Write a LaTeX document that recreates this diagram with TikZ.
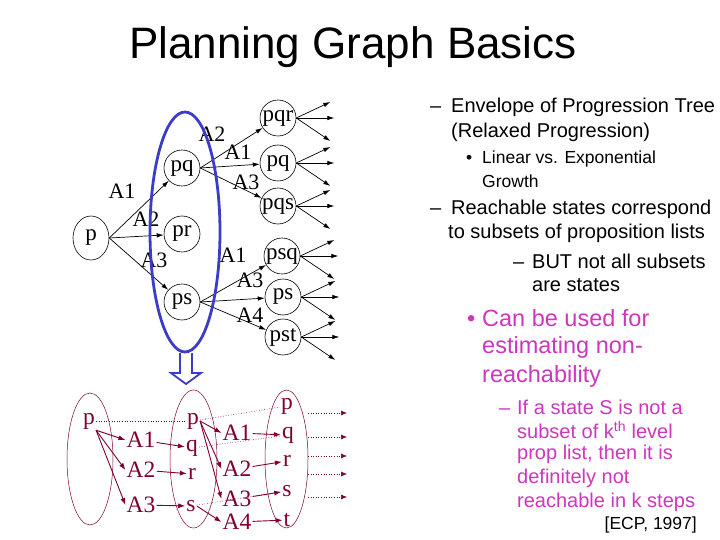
\documentclass[tikz,border=0pt]{standalone}
\usepackage{fontspec}
\setmainfont{Liberation Sans}
\newfontfamily\graphfont{Liberation Serif}
\usetikzlibrary{arrows.meta,shapes.geometric}

\definecolor{ringblue}{RGB}{60,60,200}
\definecolor{plangraph}{RGB}{128,0,48}
\definecolor{notepink}{RGB}{205,55,190}

\tikzset{
  treenode/.style={draw, circle, line width=0.6pt, minimum size=36pt, inner sep=0pt, font=\graphfont\fontsize{23}{23}\selectfont},
  actlbl/.style={inner sep=0pt, font=\graphfont\fontsize{22}{22}\selectfont},
  treearrow/.style={-{Latex[length=7pt,width=4.5pt]}, line width=0.7pt},
  prop/.style={inner sep=1pt, text=plangraph, font=\graphfont\fontsize{23.5}{23.5}\selectfont},
  layer/.style={draw=plangraph, ellipse, line width=0.5pt, inner sep=0pt},
  link/.style={plangraph, line width=0.9pt, -{Latex[length=7pt,width=5pt]}},
  noop/.style={plangraph, dotted, line width=0.6pt},
  bodytxt/.style={anchor=west, inner sep=0pt, font=\fontsize{20}{20}\selectfont},
  smalltxt/.style={anchor=west, inner sep=0pt, font=\fontsize{17.5}{17.5}\selectfont},
  pinkbig/.style={anchor=west, inner sep=0pt, text=notepink, font=\fontsize{23.5}{23.5}\selectfont},
  pinktxt/.style={anchor=west, inner sep=0pt, text=notepink, font=\fontsize{20}{20}\selectfont}
}

\begin{document}
\begin{tikzpicture}[x=1pt, y=-1pt]
    \useasboundingbox[fill=white] (0,0) rectangle (720,540);

    % Title
    \node[font=\fontsize{44}{44}\selectfont] (title) at (353,47) {Planning Graph Basics};

    % Progression tree
    \node[treenode, ellipse, minimum width=36pt, minimum height=44pt] (p) at (91,238) {p};
    \node[treenode] (pq) at (182,168) {pq};
    \node[treenode] (pr) at (182,234) {pr};
    \node[treenode] (ps) at (182,302) {ps};
    \node[treenode] (pqr) at (278,118) {pqr};
    \node[treenode] (pqb) at (278,163) {pq};
    \node[treenode] (pqs) at (278,206) {pqs};
    \node[treenode] (psq) at (282,256) {psq};
    \node[treenode] (psb) at (283,297) {ps};
    \node[treenode] (pst) at (283,337) {pst};

    \foreach \t in {pq,pr,ps} \draw[treearrow] (p.east) -- (\t);
    \foreach \t in {pqr,pqb,pqs} \draw[treearrow] (pq.east) -- (\t);
    \foreach \t in {psq,psb,pst} \draw[treearrow] (ps.east) -- (\t);
    \foreach \n in {pqr,pqb,pqs,psq,psb,pst} {
        \draw[treearrow] (\n.east) -- +(34,-16);
        \draw[treearrow] (\n.east) -- +(38,0);
        \draw[treearrow] (\n.east) -- +(34,23);
    }

    % Action labels
    \node[actlbl] (t1) at (122,191) {A1};
    \node[actlbl] (t2) at (146,219) {A2};
    \node[actlbl] (t3) at (154,260) {A3};
    \node[actlbl] (t4) at (212,134) {A2};
    \node[actlbl] (t5) at (238,152) {A1};
    \node[actlbl] (t6) at (246,182) {A3};
    \node[actlbl] (t7) at (233,255) {A1};
    \node[actlbl] (t8) at (250,280) {A3};
    \node[actlbl] (t9) at (250,315) {A4};

    % Envelope
    \node[draw=ringblue, line width=2.8pt, ellipse, minimum width=70pt, minimum height=240pt] (envelope) at (185,232) {};
    \draw[ringblue, line width=1.8pt, line join=miter] (180,353) -- (180,373) -- (171,373) -- (186,384) -- (201,373) -- (192,373) -- (192,353);

    % Planning graph
    \node[layer, minimum width=46pt, minimum height=132pt] (lay0) at (90,459) {};
    \node[layer, minimum width=47pt, minimum height=138pt] (lay1) at (193.5,459) {};
    \node[layer, minimum width=43pt, minimum height=138pt] (lay2) at (286.5,459) {};

    \node[prop] (lp) at (89,421) {p};
    \node[prop] (la1) at (141,440) {A1};
    \node[prop] (la2) at (141,470) {A2};
    \node[prop] (la3) at (141,505) {A3};
    \node[prop] (mp) at (193,421) {p};
    \node[prop] (mq) at (192,448) {q};
    \node[prop] (mr) at (192,474) {r};
    \node[prop] (ms) at (191,506) {s};
    \node[prop] (ra1) at (237,433) {A1};
    \node[prop] (ra2) at (237,469) {A2};
    \node[prop] (ra3) at (237,499) {A3};
    \node[prop] (ra4) at (237,522) {A4};
    \node[prop] (rp) at (287,406) {p};
    \node[prop] (rq) at (288,435) {q};
    \node[prop] (rr) at (287,461) {r};
    \node[prop] (rs) at (287,491) {s};
    \node[prop] (rt) at (287,520) {t};

    \draw[noop] (lp) -- (mp);
    \draw[noop] (mp) -- (rp);
    \draw[noop] (mq) -- (rq);
    \draw[noop] (ms) -- (rs);
    \foreach \a in {la1,la2,la3} \draw[link] (lp.south east) -- (\a.west);
    \draw[link] (la1) -- (mq);
    \draw[link] (la2) -- (mr);
    \draw[link] (la3) -- (ms);
    \foreach \a in {ra1,ra2,ra3} \draw[link] (mp.east) -- (\a.west);
    \draw[link] (ms.east) -- (ra4.west);
    \draw[link] (ra1) -- (rq);
    \draw[link] (ra2) -- (rr);
    \draw[link] (ra3) -- (rs);
    \draw[link] (ra4) -- (rt);
    \foreach \y in {413,437,456,474,497}
        \draw[noop, -{Latex[length=6pt,width=5pt]}] (308,\y) -- (347,\y);

    % Notes
    \foreach \x/\y/\txt [count=\i] in {
        430/107/{\makebox[21pt][l]{–}Envelope of Progression Tree}, 451/132/{(Relaxed Progression)},
        430/209/{\makebox[21pt][l]{–}Reachable states correspond}, 448/233/{to subsets of proposition lists},
        513/261/{\makebox[19pt][l]{–}BUT not all subsets}, 532/285/{are states}
    } {
        \node[bodytxt] (note\i) at (\x,\y) {\txt};
    }
    \node[smalltxt] (growth1) at (466,159) {\makebox[16pt][l]{•}Linear vs. Exponential};
    \node[smalltxt] (growth2) at (482,181) {Growth};
    \foreach \x/\y/\txt [count=\i] in {
        467/318/{\makebox[15pt][l]{•}Can be used for}, 482/347/{estimating non-}, 482/376/{reachability}
    } {
        \node[pinkbig] (use\i) at (\x,\y) {\txt};
    }
    \foreach \x/\y/\txt [count=\i] in {
        499/407/{\makebox[18pt][l]{–}If a state S is not a}, 517/430/{subset of k\textsuperscript{th} level},
        517/454/{prop list, then it is}, 517/478/{definitely not}, 517/502/{reachable in k steps}
    } {
        \node[pinktxt] (cond\i) at (\x,\y) {\txt};
    }
    \node[anchor=east, inner sep=0pt, font=\fontsize{17.5}{17.5}\selectfont] (cite) at (697,525) {[ECP, 1997]};
\end{tikzpicture}
\end{document}
